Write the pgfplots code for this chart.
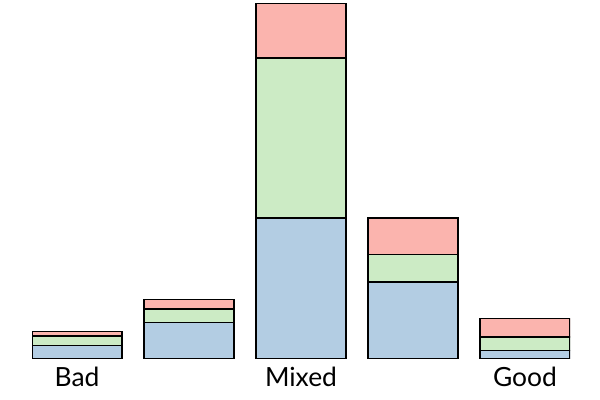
\documentclass[border=0pt]{standalone}
\usepackage{pgfplots}
\pgfplotsset{compat=1.18}
\usepackage{fontspec}
\setmainfont{Lato}
\definecolor{pblue}{HTML}{B3CDE3}
\definecolor{pgreen}{HTML}{CCEBC5}
\definecolor{pred}{HTML}{FBB4AE}
\begin{document}
\begin{tikzpicture}
\useasboundingbox (0,0) rectangle (600bp,400bp);
\begin{axis}[
    at={(32bp,41bp)}, anchor=south west,
    scale only axis,
    width=538bp, height=355bp,
    ybar stacked,
    bar width=90bp,
    xmin=-0.4018, xmax=4.4018,
    ymin=0, ymax=355,
    axis line style={draw=none},
    major tick length=0,
    ytick=\empty,
    xtick={0,1,2,3,4},
    xticklabels={Bad,,Mixed,,Good},
    xticklabel style={font=\fontsize{26.5}{30}\selectfont, anchor=base, yshift=-27.5bp},
    every axis plot/.append style={draw=black, line width=1.5bp},
]
\addplot[fill=pblue] coordinates {(0,13.3) (1,36.7) (2,141) (3,77) (4,8.7)};
\addplot[fill=pgreen] coordinates {(0,9.7) (1,13.3) (2,160) (3,27.3) (4,13.3)};
\addplot[fill=pred] coordinates {(0,4.7) (1,9.3) (2,54.5) (3,36.7) (4,18.3)};
\end{axis}
\end{tikzpicture}
\end{document}
